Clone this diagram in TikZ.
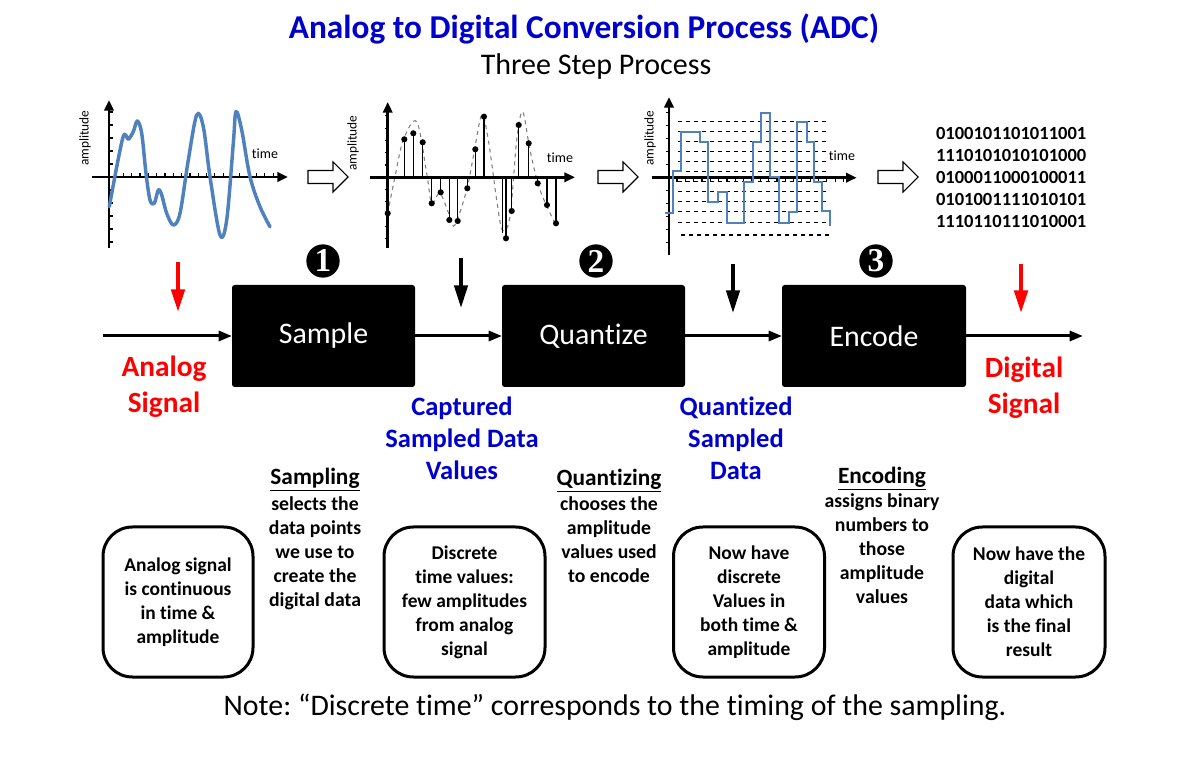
\documentclass[tikz,border=0pt]{standalone}
\usepackage{fontspec}
\setmainfont{Carlito}[Ligatures=NoCommon]
\newfontfamily\numfont{Liberation Serif}
\usetikzlibrary{arrows.meta}
\definecolor{adcblue}{RGB}{0,0,204}
\definecolor{adcred}{RGB}{255,0,0}
\definecolor{wave}{RGB}{79,129,189}
\frenchspacing
\begin{document}
\begin{tikzpicture}[x=0.75pt,y=-0.75pt,
  every node/.style={inner sep=0pt, outer sep=0pt},
  blackbox/.style={fill=black, rounded corners=2pt, minimum height=76.5pt, text=white, font=\fontsize{22.4}{26}\selectfont},
  flow/.style={line width=2.25pt, -{Triangle[length=10pt,width=7.5pt]}},
  downred/.style={draw=adcred, line width=3pt, -{Triangle[length=17pt,width=10pt]}},
  downblack/.style={draw=black, line width=2.6pt, -{Triangle[length=17pt,width=10pt]}},
  numcircle/.style={circle, fill=black, minimum size=25pt, text=white, font=\numfont\bfseries\fontsize{25}{25}\selectfont},
  redlabel/.style={text=adcred, align=center, font=\bfseries\fontsize{22}{27}\selectfont},
  bluelabel/.style={text=adcblue, align=center, font=\bfseries\fontsize{19.9}{24}\selectfont},
  infobox/.style={draw, line width=2.25pt, rounded corners=22pt, minimum height=112.5pt, align=center, font=\bfseries\fontsize{14.6}{18}\selectfont},
  midtext/.style={align=center, font=\bfseries\fontsize{14.8}{18}\selectfont},
  axisarrow/.style={line width=2.2pt, -{Triangle[length=8pt,width=7pt]}},
  tick/.style={line width=0.8pt},
  axlabel/.style={font=\fontsize{10}{10}\selectfont},
  hollow/.style={draw=black, line width=0.8pt, fill=white}
]
\useasboundingbox (0,0) rectangle (1182,762);
\fill[white] (0,0) rectangle (1182,762);

% titles
\node[text=adcblue, font=\bfseries\fontsize{25}{28}\selectfont] (title) at (584,29) {Analog to Digital Conversion Process (ADC)};
\node[font=\fontsize{22.5}{26}\selectfont] (subtitle) at (596,67) {Three Step Process};

% ---------- graph 1: analog ----------
\draw[axisarrow] (109,248) -- (109,100);
\draw[axisarrow] (92,177) -- (288,177);
\foreach \i in {0,...,19} \draw[tick] ({115+8.33*\i},177) -- ++(0,-4);
\foreach \k in {1,...,5} {\draw[tick] (109,{177-13*\k}) -- ++(4,0); \draw[tick] (109,{177+13*\k}) -- ++(4,0);}
\node[axlabel, rotate=90] (amp1) at (85,138) {amplitude};
\node[font=\fontsize{10.5}{12}\selectfont] (time1) at (265,154) {time};
\draw[wave, line width=2.6pt, line join=round, line cap=round] plot[smooth, tension=0.55] coordinates {
 (109.3,206.7) (122.7,138.3) (128.3,139.3) (133.3,131.7) (137.3,121) (141.7,133.3) (146,173.3) (150,200)
 (154.3,203.3) (158.3,190) (161.7,195) (166.7,213.3) (173.3,225) (180,213.3) (188.3,160) (196.7,115)
 (203.3,126.7) (210,176.7) (220,235) (226.7,220) (233.3,143.3) (236,111.7) (241.7,130) (250,176.7)
 (260,206.7) (270,226.7)};

% ---------- graph 2: sampled ----------
\draw[gray, dashed, line width=0.8pt] plot[smooth, tension=0.55] coordinates {
 (387.7,213.3) (395,176.7) (403.3,140) (416.7,121.7) (426.7,173.3) (431.7,203.3) (440,193.3) (450,216.7)
 (455,225) (466.7,190) (473.3,156.7) (481.7,115) (488.3,140) (496.7,200) (502.3,230) (510,216.7)
 (516.7,140) (522.7,111.7) (530,150) (540,190) (556.7,226.7)};
\foreach \x/\y in {404.3/139.3, 413.3/133.3, 422.7/142.3, 431.7/203.3, 440.7/192.3, 449.3/220, 457.7/221,
 467.3/188.3, 475.3/149.3, 484/116.7, 502.3/233, 506/238.3, 511.7/211, 518.7/125, 528.7/143.3, 537.7/183.3, 547/205, 556/223.3}
  \draw[line width=1.1pt] (\x,177.3) -- (\x,\y);
\draw[axisarrow] (387.7,248) -- (387.7,102);
\draw[axisarrow] (370,177.3) -- (575,177.3);
\foreach \k in {1,...,5} {\draw[tick] (387.7,{177.3-12.3*\k}) -- ++(-3,0); \draw[tick] (387.7,{177.3+12.3*\k}) -- ++(-3,0);}
\foreach \x/\y in {387.7/213.3, 404.3/139.3, 413.3/133.3, 422.7/142.3, 431.7/203.3, 440.7/192.3, 449.3/220, 457.7/221,
 467.3/188.3, 475.3/149.3, 484/116.7, 506/238.3, 511.7/211, 518.7/125, 528.7/143.3, 537.7/183.3, 547/205, 556/223.3}
  \fill (\x,\y) circle (2.3pt);
\node[axlabel, rotate=90] (amp2) at (353,143) {amplitude};
\node[font=\fontsize{10.5}{12}\selectfont] (time2) at (560,158) {time};

% ---------- graph 3: quantized ----------
\foreach \y in {121.7,131.7,141.7,151.7,161.7,171.7,181.7,191.7,201.7,211.7,222.7}
  \draw[dashed, line width=0.8pt] (678,\y) -- (828,\y);
\draw[dashed, line width=0.8pt] (681,235) -- (829,235);
\draw[axisarrow] (669,255) -- (669,97);
\draw[axisarrow] (651.7,177.7) -- (856.7,177.7);
\foreach \i in {0,...,20} \draw[tick] ({677+8.33*\i},177.7) -- ++(0,4);
\foreach \k in {1,...,5} {\draw[tick] (669,{177.7-13*\k}) -- ++(-3,0); \draw[tick] (669,{177.7+13*\k}) -- ++(-3,0);}
\draw[wave, line width=1.3pt] (665,212.7)--(672.7,212.7)--(672.7,170.7)--(680.7,170.7)--(680.7,132.3)--(700,132.3)--(700,142.3)--(708.3,142.3)--(708.3,202.3)--(717.7,202.3)--(717.7,192.3)--(726.7,192.3)--(726.7,222.7)--(744.3,222.7)--(744.3,182.3)--(752.7,182.3)--(752.7,142.3)--(760.7,142.3)--(760.7,113.3)--(770,113.3)--(770,177.3)--(779,177.3)--(779,222.7)--(789,222.7)--(789,212.3)--(797.3,212.3)--(797.3,121.7)--(806.7,121.7)--(806.7,142.3)--(814,142.3)--(814,182.3)--(822.3,182.3)--(822.3,210.7)--(830,210.7)--(830,226);
\node[axlabel, rotate=90] (amp3) at (650,138) {amplitude};
\node[fill=white, inner sep=1pt, font=\fontsize{10.5}{12}\selectfont] (time3) at (842,156) {time};

% ---------- binary ----------
\node[anchor=west, align=left, font=\bfseries\fontsize{13.9}{16.5}\selectfont] (binary) at (936,177.5)
 {0100101101011001\\1110101010101000\\0100011000100011\\0101001111010101\\1110110111010001};

% ---------- hollow block arrows ----------
\foreach \x in {308,598,878}
  \draw[hollow, line join=miter] (\x,170.5) -- ++(25,0) -- ++(0,-8.5) -- ++(15,15) -- ++(-15,15) -- ++(0,-8.5) -- ++(-25,0) -- cycle;

% ---------- numbered circles ----------
\node[numcircle] (n1) at (323,261) {1};
\node[numcircle] (n2) at (596,261) {2};
\node[numcircle] (n3) at (876,261) {3};

% ---------- process boxes ----------
\node[blackbox, minimum width=137.25pt] (sample) at (323.5,336) {Sample};
\node[blackbox, minimum width=137.25pt] (quant) at (593.5,336) {Quantize};
\node[blackbox, minimum width=138pt] (encode) at (874,336) {Encode};
\coordinate (in) at (103,336);
\coordinate (out) at (1083,336);
\draw[flow] (in) -- (sample.west);
\draw[flow] (sample.east) -- (quant.west);
\draw[flow] (quant.east) -- (encode.west);
\draw[flow] (encode.east) -- (out);

% ---------- down arrows ----------
\coordinate (r1a) at (178,262); \coordinate (r1b) at (178,312);
\coordinate (b1a) at (461,258); \coordinate (b1b) at (461,308);
\coordinate (b2a) at (733,264); \coordinate (b2b) at (733,313);
\coordinate (r2a) at (1021,264); \coordinate (r2b) at (1021,313);
\draw[downred] (r1a) -- (r1b);
\draw[downblack] (b1a) -- (b1b);
\draw[downblack] (b2a) -- (b2b);
\draw[downred] (r2a) -- (r2b);

% ---------- signal labels ----------
\node[redlabel] (analog) at (164,387) {Analog\\Signal};
\node[redlabel] (digital) at (1024,388) {Digital\\Signal};
\node[bluelabel] (captured) at (462,438) {Captured\\Sampled Data\\Values};
\node[bluelabel] (quantized) at (736,438) {Quantized\\Sampled\\Data};

% ---------- step descriptions ----------
\newcommand\stephead[1]{{\fontsize{17.5}{20}\selectfont\underline{#1}}}
\node[midtext] (sampling) at (315,539) {\stephead{Sampling}\\[1pt]selects the\\data points\\we use to\\create the\\digital data};
\node[midtext] (quantizing) at (609,526) {\stephead{Quantizing}\\[1pt]chooses the\\amplitude\\values used\\to encode};
\node[midtext] (encoding) at (882,535) {\stephead{Encoding}\\[0pt]assigns binary\\numbers to\\those\\amplitude\\values};

% ---------- info boxes ----------
\node[infobox, minimum width=112.5pt] (box1) at (178,602) {Analog signal\\is continuous\\in time \&\\amplitude};
\node[infobox, minimum width=120.75pt] (box2) at (464.5,602) {Discrete\\time values:\\few amplitudes\\from analog\\signal};
\node[infobox, minimum width=113.25pt] (box3) at (749,602) {Now have\\discrete\\Values in\\both time \&\\amplitude};
\node[infobox, minimum width=114pt] (box4) at (1029,602) {Now have the\\digital\\data which\\is the final\\result};

% ---------- note ----------
\node[font=\fontsize{22.4}{26}\selectfont] (note) at (615,707) {Note: “Discrete time” corresponds to the timing of the sampling.};
\end{tikzpicture}
\end{document}
